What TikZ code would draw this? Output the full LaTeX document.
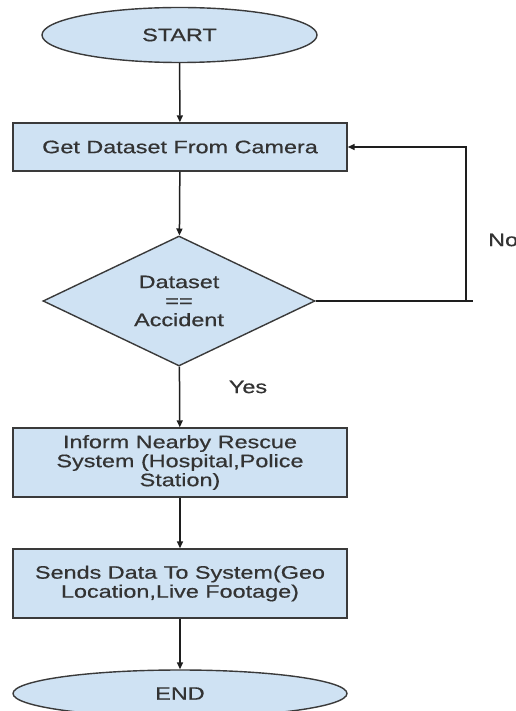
\documentclass[tikz,border=0pt]{standalone}
\usepackage{fontspec}
\setmainfont{Liberation Sans}[FakeStretch=1.3,FakeBold=0.6]
\usetikzlibrary{shapes.geometric,arrows.meta}
\definecolor{boxfill}{HTML}{CFE2F3}
\definecolor{boxline}{HTML}{3A3A3A}
\definecolor{txt}{HTML}{333333}
\definecolor{conn}{HTML}{1E1E1E}
\tikzset{
  base/.style={draw=boxline, fill=boxfill, line width=1.4pt, text=txt, inner sep=0pt,
    font=\fontsize{18pt}{19pt}\selectfont, align=center},
  term/.style={base, ellipse},
  proc/.style={base, rectangle, minimum width=334pt},
  decide/.style={base, diamond, aspect=2.09, minimum width=272pt, minimum height=130pt},
  lbl/.style={text=txt, font=\fontsize{18pt}{19pt}\selectfont, inner sep=0pt},
  arr/.style={draw=conn, line width=1.5pt, -{Triangle[length=7pt,width=6pt]}},
  ln/.style={draw=conn, line width=1.5pt}
}
\begin{document}
\begin{tikzpicture}[x=1pt,y=-1pt]
\fill[white] (0,0) rectangle (515,711);
\useasboundingbox (0,0) rectangle (515,711);
\node[term, minimum width=275pt, minimum height=55pt] (start) at (179.5,35) {START};
\node[proc, minimum height=48pt] (get) at (180,147) {Get Dataset From Camera};
\node[decide] (dia) at (179,301) {Dataset\\==\\Accident};
\node[proc, minimum height=69pt] (inform) at (180,462.5) {Inform Nearby Rescue\\System (Hospital,Police\\Station)};
\node[proc, minimum height=69pt] (send) at (180,583.5) {Sends Data To System(Geo\\Location,Live Footage)};
\node[term, minimum width=334pt, minimum height=47pt] (end) at (180,693.5) {END};
\coordinate (corner) at (466,301);
\coordinate (tick) at (473,301);
\node[lbl, anchor=west] (no) at (488,240) {No};
\node[lbl] (yes) at (248,387) {Yes};
\draw[arr] (start) -- (get);
\draw[arr] (get) -- (dia);
\draw[ln] (dia.east) -- (tick);
\draw[arr] (corner) |- (get.east);
\draw[arr] (dia) -- (inform);
\draw[arr] (inform) -- (send);
\draw[arr] (send) -- (end);
\end{tikzpicture}
\end{document}
